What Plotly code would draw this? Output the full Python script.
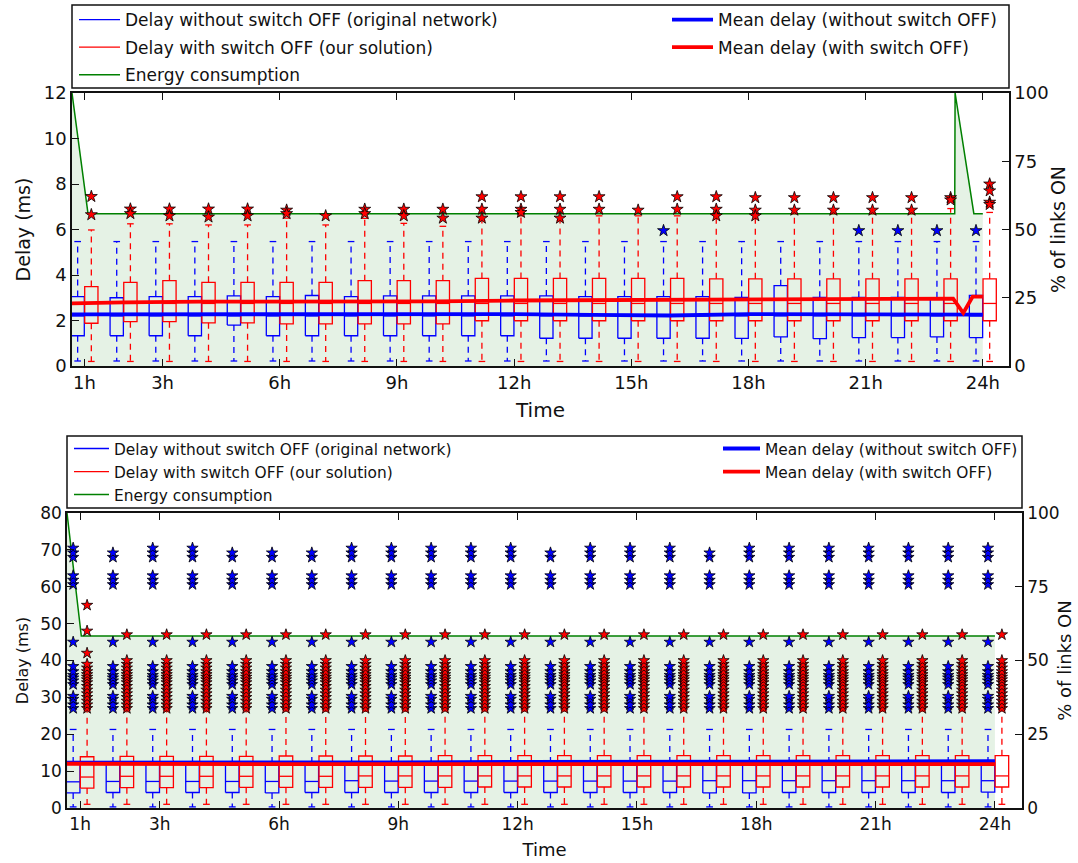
import plotly.graph_objects as go

# ---------------- data ----------------
hours = list(range(1, 25))
tick_hours = [1, 3, 6, 9, 12, 15, 18, 21, 24]
tick_labels = ["1h", "3h", "6h", "9h", "12h", "15h", "18h", "21h", "24h"]

# ---- top chart (delay 0-12 ms) ----
top_blue_q1 = [1.33, 1.33, 1.33, 1.33, 1.80, 1.33, 1.33, 1.33, 1.33, 1.33, 1.33, 1.33,
               1.22, 1.22, 1.22, 1.22, 1.22, 1.21, 1.28, 1.20, 1.25, 1.25, 1.28, 1.25]
top_blue_med = [2.2] * 24
top_blue_q3 = [3.05, 3.00, 3.05, 3.05, 3.08, 3.05, 3.10, 3.05, 3.08, 3.08, 3.08, 3.08,
               3.08, 3.05, 3.05, 3.05, 3.05, 3.02, 3.53, 3.02, 3.02, 3.02, 3.00, 3.10]
top_blue_lo = [0.22] * 24
top_blue_hi = [5.47] * 24

top_red_q1 = [1.88, 1.95, 1.95, 1.90, 1.90, 1.85, 1.85, 1.85, 1.85, 1.85, 1.99, 1.99,
              1.99, 1.99, 1.99, 1.99, 1.99, 1.99, 1.99, 1.99, 1.99, 1.99, 1.99, 1.99]
top_red_med = [2.75] * 24
top_red_q3 = [3.49, 3.68, 3.75, 3.68, 3.68, 3.68, 3.68, 3.75, 3.75, 3.75, 3.85, 3.85,
              3.85, 3.85, 3.85, 3.85, 3.83, 3.83, 3.83, 3.83, 3.83, 3.83, 3.83, 3.83]
top_red_lo = [0.2] * 24
top_red_hi = [5.98, 6.25, 6.25, 6.20, 6.20, 6.50, 6.20, 6.49, 6.27, 6.14, 6.40, 6.60,
              6.40, 6.60, 6.60, 6.60, 6.60, 6.70, 6.70, 6.70, 6.70, 6.70, 6.92, 6.75]

top_red_out = {
    1: [7.45, 6.65], 2: [6.9, 6.7], 3: [6.9, 6.6], 4: [6.9, 6.55], 5: [6.9, 6.6],
    6: [6.85, 6.7], 7: [6.6], 8: [6.89, 6.7], 9: [6.89, 6.6], 10: [6.89, 6.5],
    11: [7.44, 6.89, 6.5], 12: [7.44, 6.89, 6.75], 13: [7.44, 6.89, 6.5],
    14: [7.44, 6.89], 15: [6.85], 16: [7.44, 6.89], 17: [7.44, 6.89, 6.6],
    18: [7.4, 6.85, 6.6], 19: [7.4, 6.85], 20: [7.4, 6.85], 21: [7.4, 6.85],
    22: [7.4, 6.85], 23: [7.4, 7.3], 24: [8.0, 7.7, 7.2, 7.1],
}
top_blue_out = {16: [5.95], 21: [5.95], 22: [5.95], 23: [5.95], 24: [5.95]}

top_mean_x = [0.68, 2, 4, 6, 8, 10, 12, 14, 16, 18, 20, 22, 23.24, 23.5, 23.74, 24.0]
top_mean_blue = [2.27, 2.27, 2.30, 2.30, 2.30, 2.28, 2.28, 2.25, 2.22, 2.28, 2.27, 2.28,
                 2.28, 2.25, 2.25, 2.26]
top_mean_red = [2.75, 2.80, 2.83, 2.83, 2.84, 2.84, 2.88, 2.90, 2.92, 2.94, 2.95, 2.96,
                2.96, 2.33, 3.05, 3.05]

top_energy_x = [0.68, 1.09, 23.28, 23.29, 23.77, 24.0]
top_energy = [100, 55.8, 55.8, 100, 55.8, 55.8]

# ---- bottom chart (delay 0-80 ms) ----
bot_blue_q1 = [4.1, 4.2, 4.2, 4.2, 4.2, 4.1, 4.2, 4.2, 4.2, 4.2, 4.2, 4.2,
               4.2, 4.2, 4.2, 4.2, 4.1, 4.1, 4.2, 4.2, 4.2, 4.2, 4.2, 4.3]
bot_blue_med = [7.1, 7.2, 7.2, 7.2, 7.2, 7.2, 7.2, 7.4, 7.3, 7.3, 7.3, 7.3,
                7.3, 7.3, 7.3, 7.3, 7.4, 7.4, 7.4, 7.4, 7.4, 7.4, 7.4, 7.4]
bot_blue_q3 = [12.2] * 24
bot_blue_lo = [0.3] * 24
bot_blue_hi = [21.3] * 24

bot_red_q1 = [5.4, 5.5, 5.5, 5.5, 5.6, 5.6, 5.6, 5.6, 5.6, 5.6, 5.7, 5.7,
              5.7, 5.7, 5.7, 5.7, 5.7, 5.7, 5.7, 5.7, 5.7, 5.7, 5.7, 5.7]
bot_red_med = [8.4, 8.6, 8.6, 8.6, 8.6, 8.6, 8.6, 8.7, 8.7, 8.7, 8.7, 8.7,
               8.7, 8.7, 8.7, 8.7, 8.7, 8.7, 8.7, 8.7, 8.7, 8.7, 8.7, 8.7]
bot_red_q3 = [13.9, 14.0, 14.0, 14.0, 14.0, 14.1, 14.1, 14.1, 14.1, 14.2, 14.2, 14.2,
              14.2, 14.2, 14.2, 14.2, 14.2, 14.2, 14.2, 14.2, 14.2, 14.2, 14.2, 14.2]
bot_red_lo = [1.0] * 24
bot_red_hi = [26.5] * 24

bot_blue_out_common = [27.0, 28.0, 29.5, 30.3, 33.5, 34.5, 35.3, 36.0, 37.0, 38.4,
                       45.0, 60.6, 61.8, 63.0, 68.0, 69.2, 70.5]
bot_blue_out_short = [27.0, 28.0, 29.5, 30.3, 33.5, 34.5, 35.3, 36.0, 37.0, 38.4,
                      45.0, 60.6, 61.8, 63.0, 68.0, 69.2]
bot_red_out_common = [27.0, 28.0, 29.0, 30.0, 31.0, 32.0, 33.0, 34.0, 34.8, 35.5,
                      36.2, 37.0, 38.0, 39.0, 40.0, 47.0]
bot_red_out_first = [27.0, 28.0, 29.0, 30.0, 31.0, 32.0, 33.0, 34.0, 34.8, 35.5,
                     36.2, 37.0, 38.0, 39.0, 42.0, 48.0, 55.0]
bot_blue_short_hours = [2, 5, 6, 7, 13, 17]

bot_mean_x = [0.67, 3, 6, 9, 12, 15, 18, 21, 24.0]
bot_mean_blue = [12.3, 12.4, 12.3, 12.4, 12.5, 12.5, 12.6, 12.6, 12.7]
bot_mean_red = [12.0, 11.9, 11.9, 11.9, 11.9, 11.9, 12.0, 11.9, 11.9]

bot_energy_x = [0.67, 1.03, 24.0]
bot_energy = [100, 58.3, 58.3]

legend_names = ["Delay without switch OFF (original network)",
                "Delay with switch OFF (our solution)",
                "Energy consumption",
                "Mean delay (without switch OFF)",
                "Mean delay (with switch OFF)"]

# ---------------- styling ----------------
BLUE = "#0000ff"
RED = "#ff0000"
GREEN = "#008000"
FONT = "DejaVu Sans"
OFF_BLUE, OFF_RED, BOX_W = -0.175, 0.175, 0.34

fig = go.Figure()


def box_traces(q1, med, q3, lo, hi, offset, color, xa, ya, name, legend, group):
    bx, by, wx, wy, cx, cy = [], [], [], [], [], []
    for i, h in enumerate(hours):
        c = h + offset
        l, r = c - BOX_W / 2, c + BOX_W / 2
        bx += [l, r, r, l, l, None, l, r, None]
        by += [q1[i], q1[i], q3[i], q3[i], q1[i], None, med[i], med[i], None]
        wx += [c, c, None, c, c, None]
        wy += [q3[i], hi[i], None, q1[i], lo[i], None]
        cx += [c - BOX_W / 4, c + BOX_W / 4, None, c - BOX_W / 4, c + BOX_W / 4, None]
        cy += [hi[i], hi[i], None, lo[i], lo[i], None]
    fig.add_trace(go.Scatter(x=wx, y=wy, mode="lines", xaxis=xa, yaxis=ya,
                             line=dict(color=color, width=1.3, dash="6px,5px"),
                             showlegend=False, hoverinfo="skip"))
    fig.add_trace(go.Scatter(x=cx, y=cy, mode="lines", xaxis=xa, yaxis=ya,
                             line=dict(color=color, width=1.3),
                             showlegend=False, hoverinfo="skip"))
    fig.add_trace(go.Scatter(x=bx, y=by, mode="lines", xaxis=xa, yaxis=ya,
                             line=dict(color=color, width=1.3), name=name,
                             legend=legend, legendgroup=group))


def outlier_trace(out, offset, color, xa, ya, size):
    xs, ys = [], []
    for h in hours:
        for v in out.get(h, []):
            xs.append(h + offset)
            ys.append(v)
    fig.add_trace(go.Scatter(x=xs, y=ys, mode="markers", xaxis=xa, yaxis=ya,
                             marker=dict(symbol="star", size=size, color=color,
                                         line=dict(color="black", width=0.8)),
                             showlegend=False))


def panel(tag, xa, ya_e, ya_d, ex, ey, blue, red, mx, mb, mr, bout, rout, leg_l, leg_r, msize):
    fig.add_trace(go.Scatter(x=ex, y=ey, mode="lines", xaxis=xa, yaxis=ya_e,
                             fill="tozeroy", fillcolor="rgba(0,128,0,0.1)",
                             line=dict(width=0), showlegend=False, hoverinfo="skip"))
    box_traces(*blue, OFF_BLUE, BLUE, xa, ya_d, legend_names[0], leg_l, tag + "a")
    box_traces(*red, OFF_RED, RED, xa, ya_d, legend_names[1], leg_l, tag + "b")
    fig.add_trace(go.Scatter(x=ex, y=ey, mode="lines", xaxis=xa, yaxis=ya_e,
                             line=dict(color=GREEN, width=1.5), name=legend_names[2],
                             legend=leg_l, legendgroup=tag + "c"))
    fig.add_trace(go.Scatter(x=mx, y=mb, mode="lines", xaxis=xa, yaxis=ya_d,
                             line=dict(color=BLUE, width=3.8), name=legend_names[3],
                             legend=leg_r, legendgroup=tag + "d"))
    fig.add_trace(go.Scatter(x=mx, y=mr, mode="lines", xaxis=xa, yaxis=ya_d,
                             line=dict(color=RED, width=3.8), name=legend_names[4],
                             legend=leg_r, legendgroup=tag + "e"))
    outlier_trace(bout, OFF_BLUE, BLUE, xa, ya_d, msize)
    outlier_trace(rout, OFF_RED, RED, xa, ya_d, msize)


panel("t", "x", "y", "y2", top_energy_x, top_energy,
      (top_blue_q1, top_blue_med, top_blue_q3, top_blue_lo, top_blue_hi),
      (top_red_q1, top_red_med, top_red_q3, top_red_lo, top_red_hi),
      top_mean_x, top_mean_blue, top_mean_red, top_blue_out, top_red_out,
      "legend", "legend2", 9)

bot_blue_out = {h: (bot_blue_out_short if h in bot_blue_short_hours else bot_blue_out_common)
                for h in hours}
bot_red_out = {h: (bot_red_out_first if h == 1 else bot_red_out_common) for h in hours}
panel("b", "x2", "y3", "y4", bot_energy_x, bot_energy,
      (bot_blue_q1, bot_blue_med, bot_blue_q3, bot_blue_lo, bot_blue_hi),
      (bot_red_q1, bot_red_med, bot_red_q3, bot_red_lo, bot_red_hi),
      bot_mean_x, bot_mean_blue, bot_mean_red, bot_blue_out, bot_red_out,
      "legend3", "legend4", 8.5)

W, H = 1078, 863


def px_x(p):
    return p / W


def px_y(p):
    return 1 - p / H


axis_common = dict(showline=True, linecolor="#111", linewidth=1.5, ticks="inside",
                   ticklen=7, tickcolor="#111", showgrid=False, zeroline=False,
                   color="#111", automargin=False)

leg_common = dict(xanchor="left", yanchor="top", bgcolor="rgba(0,0,0,0)",
                  traceorder="grouped")

fig.update_layout(
    width=W, height=H, margin=dict(l=0, r=0, t=0, b=0, pad=0, autoexpand=False),
    paper_bgcolor="white", plot_bgcolor="white",
    font=dict(family=FONT, color="#111"),
    xaxis=dict(domain=[px_x(72), px_x(1009)], anchor="y", range=[0.68, 24.67],
               tickvals=tick_hours, ticktext=tick_labels, mirror="ticks",
               tickfont=dict(size=18), title=dict(text="Time", font=dict(size=20), standoff=11),
               **axis_common),
    yaxis=dict(domain=[px_y(366), px_y(93)], anchor="x", side="right", range=[0, 100],
               tickvals=[0, 25, 50, 75, 100], tickfont=dict(size=18),
               title=dict(text="% of links ON", font=dict(size=19), standoff=4), **axis_common),
    yaxis2=dict(overlaying="y", anchor="x", side="left", range=[0, 12], dtick=2,
                tickfont=dict(size=18),
                title=dict(text="Delay (ms)", font=dict(size=19), standoff=8), **axis_common),
    xaxis2=dict(domain=[px_x(67), px_x(1022)], anchor="y3", range=[0.67, 24.68],
                tickvals=tick_hours, ticktext=tick_labels, mirror="ticks",
                tickfont=dict(size=17), title=dict(text="Time", font=dict(size=18), standoff=10),
                **axis_common),
    yaxis3=dict(domain=[px_y(808), px_y(513)], anchor="x2", side="right", range=[0, 100],
                tickvals=[0, 25, 50, 75, 100], tickfont=dict(size=17),
                title=dict(text="% of links ON", font=dict(size=18), standoff=0), **axis_common),
    yaxis4=dict(overlaying="y3", anchor="x2", side="left", range=[0, 80], dtick=10,
                tickfont=dict(size=17),
                title=dict(text="Delay (ms)", font=dict(size=16), standoff=8), **axis_common),
    legend=dict(x=px_x(74), y=px_y(2), font=dict(size=17, family=FONT), itemwidth=41,
                tracegroupgap=2.5, **leg_common),
    legend2=dict(x=px_x(667), y=px_y(2), font=dict(size=17, family=FONT), itemwidth=41,
                 tracegroupgap=2.5, **leg_common),
    legend3=dict(x=px_x(69), y=px_y(432), font=dict(size=15.4, family=FONT), itemwidth=35,
                 tracegroupgap=0, **leg_common),
    legend4=dict(x=px_x(718), y=px_y(432), font=dict(size=15.4, family=FONT), itemwidth=37,
                 tracegroupgap=0, **leg_common),
    shapes=[
        dict(type="rect", xref="paper", yref="paper", x0=px_x(72), x1=px_x(1009),
             y0=px_y(88), y1=px_y(5), line=dict(color="#111", width=1.5)),
        dict(type="rect", xref="paper", yref="paper", x0=px_x(67), x1=px_x(1022),
             y0=px_y(508), y1=px_y(436), line=dict(color="#111", width=1.5)),
    ],
)

fig.write_html("out.html", config={"displayModeBar": False},
               post_script="document.body.style.margin='0px';"
                           "document.body.style.overflow='hidden';")
